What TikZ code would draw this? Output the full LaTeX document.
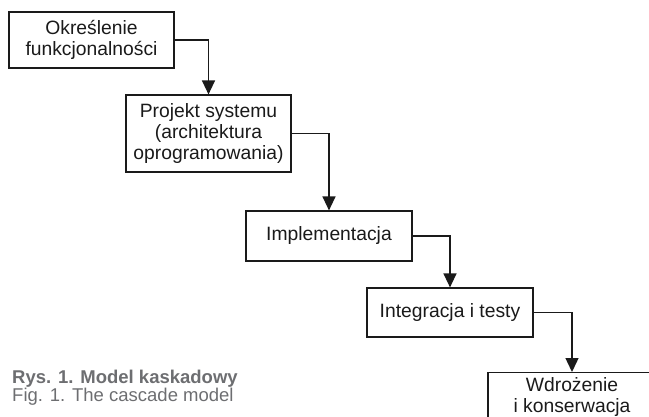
\documentclass[tikz,border=0pt]{standalone}
\usepackage{fontspec}
\setmainfont{Liberation Sans}
\usetikzlibrary{arrows.meta}
\definecolor{captiongray}{HTML}{6D6E71}
\definecolor{ink}{HTML}{1A1A1A}
\begin{document}
\begin{tikzpicture}[x=1pt,y=-1pt,
  box/.style={draw=ink,line width=1.2pt,rectangle,align=center,text=ink,inner sep=0pt,
    font=\fontsize{19.3}{21}\selectfont},
  flow/.style={draw=ink,line width=1.4pt,-{Triangle[length=14pt,width=13pt]}},
  captext/.style={anchor=base west,inner sep=0pt,text=captiongray,font=\fontsize{18.5}{20}\selectfont}]
\useasboundingbox (0,0) rectangle (649,416);
\clip (0,0) rectangle (649,416);
\node[box,minimum width=165pt,minimum height=56pt] (b1) at (91.5,40) {Określenie\\funkcjonalności};
\node[box,minimum width=165pt,minimum height=77pt] (b2) at (208.5,133.5) {Projekt systemu\\(architektura\\oprogramowania)};
\node[box,minimum width=166pt,minimum height=50pt] (b3) at (329,236) {Implementacja};
\node[box,minimum width=166pt,minimum height=49pt] (b4) at (450,312.5) {Integracja i testy};
\node[box,minimum width=168pt,minimum height=48pt,anchor=north] (b5) at (572,372) {Wdrożenie\\i konserwacja};
\draw[flow] (b1.east) -| (b2.north);
\draw[flow] (b2.east) -| (b3.north);
\draw[flow] (b3.east) -| (b4.north);
\draw[flow] (b4.east) -| (b5.north);
\node[captext,font=\fontsize{18.5}{20}\selectfont\bfseries] (c1) at (12,383) {Rys. 1. Model kaskadowy};
\node[captext] (c2) at (12,401) {Fig. 1. The cascade model};
\end{tikzpicture}
\end{document}
